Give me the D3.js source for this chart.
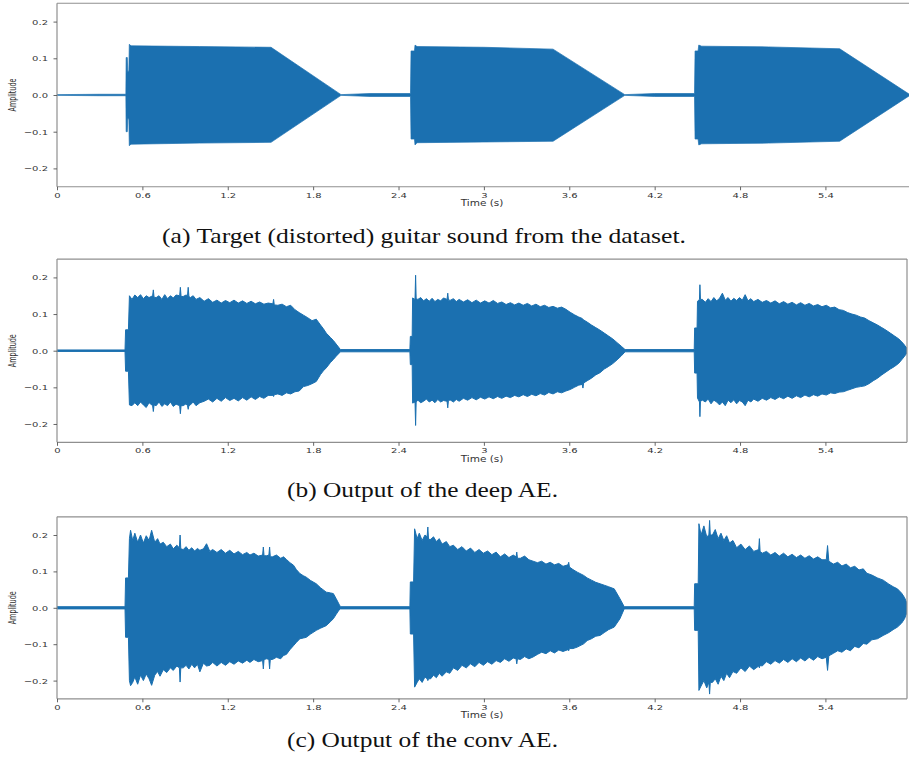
<!DOCTYPE html>
<html><head><meta charset="utf-8">
<script src="https://cdn.jsdelivr.net/npm/d3@7"></script>
<style>body{margin:0;background:#fff}svg{display:block}</style>
</head><body>
<svg id="chart" width="909" height="757"></svg>
<script>
// ---------- data ----------
const xTickValues = [0, 0.6, 1.2, 1.8, 2.4, 3, 3.6, 4.2, 4.8, 5.4];
const xTickLabels = ["0", "0.6", "1.2", "1.8", "2.4", "3", "3.6", "4.2", "4.8", "5.4"];
const yTickValues = [-0.2, -0.1, 0.0, 0.1, 0.2];
const yTickLabels = ["\u22120.2", "\u22120.1", "0.0", "0.1", "0.2"];
const xLabel = "Time (s)";
const yLabel = "Amplitude";
const captions = [
  "(a) Target (distorted) guitar sound from the dataset.",
  "(b) Output of the deep AE.",
  "(c) Output of the conv AE."
];

// envelope rows: [time (s), upper amplitude, lower amplitude]
const targetEnvelope = [
  [0,0.001,-0.001],[0.30,0.002,-0.002],[0.484,0.002,-0.002],[0.486,0.102,-0.100],[0.494,0.102,-0.100],
  [0.497,0.065,-0.065],[0.505,0.065,-0.065],[0.508,0.138,-0.138],[0.52,0.134,-0.134],[1.0,0.132,-0.131],
  [1.504,0.130,-0.129],[1.996,0.001,-0.001],[2.2,0.004,-0.004],[2.484,0.004,-0.004],[2.488,0.120,-0.120],
  [2.512,0.120,-0.120],[2.516,0.136,-0.136],[2.53,0.132,-0.130],[3.0,0.130,-0.128],[3.486,0.125,-0.126],
  [3.99,0.001,-0.001],[4.2,0.004,-0.004],[4.48,0.004,-0.004],[4.484,0.120,-0.120],[4.505,0.120,-0.120],
  [4.51,0.136,-0.136],[4.53,0.133,-0.133],[5.0,0.131,-0.131],[5.50,0.126,-0.126],[5.99,0.002,-0.002],[6.0,0,0]
];

const deepAEEnvelope = [
  [0,0.002,-0.002],[0.478,0.002,-0.002],[0.482,0.057,-0.056],[0.502,0.057,-0.056],[0.509,0.150,-0.148],
  [0.527,0.140,-0.150],[0.547,0.152,-0.142],[0.567,0.145,-0.150],[0.587,0.153,-0.140],[0.607,0.142,-0.148],
  [0.627,0.150,-0.155],[0.647,0.145,-0.142],[0.672,0.150,-0.150],[0.677,0.166,-0.166],[0.682,0.146,-0.148],
  [0.697,0.145,-0.150],[0.717,0.150,-0.140],[0.737,0.140,-0.152],[0.757,0.153,-0.145],[0.777,0.142,-0.150],
  [0.797,0.150,-0.140],[0.817,0.144,-0.152],[0.837,0.152,-0.146],[0.862,0.150,-0.150],[0.867,0.173,-0.172],
  [0.872,0.148,-0.150],[0.887,0.148,-0.150],[0.907,0.152,-0.145],[0.917,0.150,-0.150],[0.922,0.173,-0.160],
  [0.927,0.148,-0.150],[0.937,0.145,-0.148],[0.957,0.150,-0.140],[0.977,0.140,-0.150],[1.004,0.145,-0.142],
  [1.034,0.135,-0.138],[1.064,0.142,-0.132],[1.094,0.132,-0.140],[1.124,0.138,-0.130],[1.154,0.130,-0.138],
  [1.184,0.137,-0.128],[1.214,0.131,-0.136],[1.244,0.138,-0.130],[1.274,0.130,-0.137],[1.304,0.136,-0.128],
  [1.334,0.129,-0.135],[1.364,0.135,-0.126],[1.394,0.128,-0.133],[1.424,0.133,-0.125],[1.454,0.127,-0.130],
  [1.484,0.130,-0.122],[1.517,0.128,-0.122],[1.522,0.140,-0.125],[1.527,0.125,-0.120],[1.552,0.124,-0.118],
  [1.582,0.127,-0.122],[1.612,0.120,-0.115],[1.642,0.124,-0.118],[1.672,0.112,-0.112],[1.702,0.104,-0.110],
  [1.732,0.097,-0.098],[1.762,0.090,-0.095],[1.792,0.082,-0.090],[1.822,0.086,-0.084],[1.852,0.070,-0.065],
  [1.872,0.060,-0.055],[1.892,0.048,-0.047],[1.922,0.036,-0.032],[1.942,0.028,-0.024],[1.962,0.018,-0.015],
  [1.992,0.003,-0.003],[2.480,0.003,-0.003],
  [2.483,0.039,-0.038],[2.496,0.039,-0.038],[2.499,0.144,-0.143],[2.516,0.140,-0.140],[2.520,0.206,-0.204],
  [2.524,0.142,-0.140],[2.536,0.140,-0.135],[2.556,0.145,-0.142],[2.576,0.136,-0.138],[2.596,0.142,-0.132],
  [2.616,0.135,-0.140],[2.636,0.143,-0.135],[2.656,0.134,-0.142],[2.676,0.140,-0.133],[2.696,0.136,-0.140],
  [2.716,0.144,-0.136],[2.741,0.140,-0.138],[2.746,0.157,-0.156],[2.751,0.138,-0.135],[2.766,0.138,-0.135],
  [2.786,0.142,-0.140],[2.806,0.134,-0.133],[2.826,0.140,-0.138],[2.856,0.133,-0.130],[2.886,0.139,-0.135],
  [2.916,0.131,-0.128],[2.946,0.138,-0.134],[2.976,0.130,-0.127],[3.006,0.136,-0.132],[3.036,0.130,-0.126],
  [3.066,0.137,-0.131],[3.096,0.129,-0.125],[3.126,0.133,-0.130],[3.156,0.126,-0.124],[3.186,0.131,-0.128],
  [3.216,0.125,-0.122],[3.246,0.130,-0.126],[3.276,0.124,-0.120],[3.306,0.129,-0.125],[3.336,0.122,-0.119],
  [3.366,0.127,-0.123],[3.396,0.120,-0.117],[3.426,0.124,-0.121],[3.456,0.118,-0.114],[3.486,0.121,-0.118],
  [3.516,0.116,-0.112],[3.546,0.119,-0.115],[3.576,0.113,-0.110],[3.606,0.105,-0.106],[3.636,0.098,-0.100],
  [3.666,0.092,-0.094],[3.691,0.088,-0.092],[3.696,0.086,-0.102],[3.701,0.084,-0.088],[3.726,0.078,-0.082],
  [3.756,0.070,-0.075],[3.786,0.063,-0.066],[3.816,0.056,-0.060],[3.846,0.048,-0.050],[3.876,0.040,-0.043],
  [3.906,0.032,-0.035],[3.936,0.022,-0.025],[3.966,0.012,-0.014],[3.992,0.003,-0.003],[4.478,0.003,-0.003],
  [4.481,0.062,-0.061],[4.498,0.062,-0.061],[4.501,0.135,-0.129],[4.515,0.140,-0.140],[4.518,0.180,-0.180],
  [4.522,0.140,-0.138],[4.536,0.140,-0.135],[4.556,0.132,-0.140],[4.576,0.142,-0.132],[4.596,0.134,-0.145],
  [4.616,0.145,-0.135],[4.636,0.136,-0.140],[4.656,0.143,-0.148],[4.676,0.157,-0.140],[4.696,0.138,-0.150],
  [4.716,0.145,-0.135],[4.736,0.135,-0.142],[4.756,0.143,-0.134],[4.776,0.137,-0.145],[4.796,0.145,-0.136],
  [4.816,0.138,-0.140],[4.836,0.153,-0.150],[4.856,0.136,-0.135],[4.876,0.142,-0.140],[4.896,0.134,-0.132],
  [4.926,0.140,-0.138],[4.956,0.132,-0.130],[4.986,0.137,-0.135],[5.016,0.130,-0.128],[5.046,0.136,-0.133],
  [5.076,0.128,-0.126],[5.106,0.134,-0.131],[5.136,0.127,-0.124],[5.166,0.132,-0.130],[5.196,0.125,-0.123],
  [5.226,0.131,-0.128],[5.256,0.124,-0.121],[5.286,0.129,-0.126],[5.316,0.122,-0.120],[5.346,0.126,-0.124],
  [5.376,0.120,-0.118],[5.406,0.124,-0.121],[5.436,0.117,-0.115],[5.466,0.119,-0.117],[5.496,0.112,-0.113],
  [5.526,0.110,-0.112],[5.556,0.104,-0.108],[5.586,0.100,-0.104],[5.616,0.097,-0.100],[5.646,0.092,-0.098],
  [5.676,0.089,-0.096],[5.706,0.082,-0.090],[5.736,0.076,-0.082],[5.766,0.070,-0.075],[5.796,0.063,-0.066],
  [5.826,0.056,-0.058],[5.856,0.048,-0.050],[5.886,0.040,-0.043],[5.916,0.032,-0.034],[5.946,0.020,-0.020],
  [5.976,0.005,-0.005]
];

const convAEEnvelope = [
  [0,0.003,-0.003],[0.478,0.003,-0.003],[0.482,0.082,-0.081],[0.502,0.082,-0.081],[0.509,0.190,-0.200],
  [0.517,0.213,-0.214],[0.532,0.185,-0.205],[0.547,0.205,-0.190],[0.567,0.180,-0.210],[0.587,0.200,-0.185],
  [0.607,0.178,-0.200],[0.627,0.198,-0.182],[0.647,0.185,-0.195],[0.665,0.213,-0.213],[0.687,0.180,-0.185],
  [0.707,0.190,-0.175],[0.724,0.175,-0.188],[0.747,0.180,-0.170],[0.771,0.168,-0.178],[0.797,0.175,-0.165],
  [0.817,0.162,-0.172],[0.842,0.172,-0.160],[0.860,0.165,-0.165],[0.865,0.200,-0.204],[0.870,0.162,-0.165],
  [0.887,0.160,-0.165],[0.907,0.168,-0.158],[0.927,0.158,-0.168],[0.947,0.165,-0.155],[0.967,0.156,-0.165],
  [0.987,0.163,-0.155],[1.004,0.158,-0.176],[1.029,0.162,-0.152],[1.051,0.176,-0.160],[1.074,0.155,-0.158],
  [1.094,0.160,-0.150],[1.124,0.152,-0.160],[1.154,0.160,-0.150],[1.184,0.150,-0.158],[1.214,0.158,-0.148],
  [1.244,0.148,-0.155],[1.274,0.155,-0.146],[1.304,0.146,-0.152],[1.334,0.152,-0.144],[1.356,0.145,-0.150],
  [1.384,0.150,-0.142],[1.414,0.142,-0.148],[1.445,0.145,-0.145],[1.450,0.167,-0.168],[1.455,0.143,-0.142],
  [1.474,0.143,-0.140],[1.489,0.145,-0.142],[1.494,0.167,-0.168],[1.499,0.140,-0.142],[1.514,0.140,-0.142],
  [1.542,0.145,-0.136],[1.572,0.136,-0.140],[1.592,0.140,-0.131],[1.612,0.133,-0.128],[1.637,0.124,-0.115],
  [1.662,0.117,-0.104],[1.682,0.105,-0.095],[1.707,0.094,-0.085],[1.732,0.088,-0.083],[1.752,0.084,-0.081],
  [1.782,0.075,-0.072],[1.822,0.066,-0.062],[1.852,0.055,-0.056],[1.892,0.043,-0.049],[1.922,0.041,-0.038],
  [1.942,0.039,-0.030],[1.962,0.025,-0.018],[1.982,0.010,-0.006],[1.992,0.003,-0.003],[2.480,0.003,-0.003],
  [2.483,0.071,-0.072],[2.506,0.071,-0.072],[2.513,0.217,-0.218],[2.531,0.190,-0.205],[2.546,0.205,-0.195],
  [2.566,0.185,-0.205],[2.586,0.200,-0.190],[2.601,0.195,-0.195],[2.606,0.222,-0.200],[2.611,0.188,-0.195],
  [2.626,0.188,-0.195],[2.646,0.195,-0.185],[2.666,0.182,-0.192],[2.686,0.190,-0.180],[2.706,0.175,-0.188],
  [2.736,0.182,-0.176],[2.760,0.168,-0.180],[2.786,0.172,-0.165],[2.816,0.160,-0.172],[2.846,0.168,-0.158],
  [2.876,0.156,-0.165],[2.906,0.164,-0.154],[2.936,0.152,-0.162],[2.966,0.160,-0.150],[2.996,0.150,-0.158],
  [3.026,0.156,-0.148],[3.056,0.146,-0.155],[3.086,0.153,-0.145],[3.116,0.140,-0.150],[3.146,0.148,-0.140],
  [3.176,0.138,-0.147],[3.206,0.145,-0.138],[3.226,0.140,-0.140],[3.231,0.153,-0.154],[3.236,0.136,-0.140],
  [3.256,0.136,-0.142],[3.286,0.142,-0.134],[3.316,0.132,-0.140],[3.346,0.128,-0.135],[3.376,0.124,-0.128],
  [3.406,0.128,-0.122],[3.436,0.120,-0.126],[3.466,0.125,-0.118],[3.496,0.118,-0.124],[3.526,0.122,-0.116],
  [3.556,0.114,-0.120],[3.591,0.118,-0.115],[3.596,0.125,-0.118],[3.601,0.112,-0.112],[3.626,0.105,-0.112],
  [3.656,0.098,-0.108],[3.701,0.089,-0.099],[3.726,0.082,-0.090],[3.756,0.076,-0.085],[3.786,0.070,-0.078],
  [3.816,0.066,-0.076],[3.846,0.062,-0.068],[3.876,0.058,-0.060],[3.916,0.052,-0.053],[3.956,0.025,-0.030],
  [3.986,0.003,-0.003],[4.478,0.003,-0.003],
  [4.481,0.066,-0.062],[4.506,0.066,-0.062],[4.511,0.231,-0.227],[4.526,0.200,-0.215],[4.546,0.225,-0.200],
  [4.566,0.195,-0.220],[4.581,0.200,-0.205],[4.586,0.240,-0.237],[4.591,0.200,-0.205],[4.606,0.200,-0.205],
  [4.626,0.215,-0.195],[4.646,0.190,-0.210],[4.666,0.205,-0.188],[4.686,0.185,-0.200],[4.706,0.198,-0.180],
  [4.726,0.178,-0.192],[4.750,0.185,-0.175],[4.776,0.165,-0.180],[4.806,0.175,-0.165],[4.836,0.160,-0.175],
  [4.866,0.170,-0.160],[4.896,0.155,-0.170],[4.931,0.160,-0.160],[4.936,0.190,-0.165],[4.941,0.155,-0.158],
  [4.956,0.150,-0.160],[4.986,0.155,-0.148],[5.016,0.145,-0.155],[5.046,0.152,-0.145],[5.076,0.142,-0.152],
  [5.106,0.150,-0.142],[5.136,0.140,-0.150],[5.166,0.147,-0.140],[5.196,0.138,-0.148],[5.226,0.145,-0.138],
  [5.256,0.136,-0.146],[5.286,0.143,-0.136],[5.316,0.134,-0.144],[5.346,0.140,-0.134],[5.376,0.132,-0.140],
  [5.406,0.132,-0.136],[5.415,0.171,-0.172],[5.424,0.128,-0.132],[5.456,0.120,-0.125],[5.486,0.125,-0.118],
  [5.516,0.115,-0.122],[5.546,0.120,-0.113],[5.576,0.110,-0.118],[5.606,0.114,-0.106],[5.636,0.104,-0.110],
  [5.666,0.107,-0.098],[5.691,0.095,-0.100],[5.726,0.090,-0.088],[5.766,0.082,-0.085],[5.806,0.076,-0.076],
  [5.846,0.065,-0.068],[5.876,0.058,-0.060],[5.906,0.052,-0.053],[5.936,0.040,-0.042],[5.956,0.028,-0.030],
  [5.976,0.010,-0.010]
];

// ---------- layout ----------
const svg = d3.select("#chart");
const waveColor = "#1b70b0";
const spineColor = "#8f8f8f";
const textScaleY = 0.78;

const panels = [
  {data: targetEnvelope, top: 3.25, bottom: 186.75, clipRight: 909, rightSpine: false, caption: captions[0], capLeft: 162, capRight: 686, capBase: 243, stroke: 0.7},
  {data: deepAEEnvelope, top: 259.1, bottom: 442.3, clipRight: 907, rightSpine: true, caption: captions[1], capLeft: 287, capRight: 558, capBase: 497, stroke: 1},
  {data: convAEEnvelope, top: 516.8, bottom: 698.8, clipRight: 907, rightSpine: true, caption: captions[2], capLeft: 287, capRight: 558, capBase: 747, stroke: 1}
];
const left = 57;

panels.forEach((p, i) => {
  const x = d3.scaleLinear().domain([0, 6]).range([left, left + 6 * 142.3]);
  const y = d3.scaleLinear().domain([-0.25, 0.25]).range([p.bottom, p.top]);
  const g = svg.append("g");

  const clipId = "clip" + i;
  svg.append("clipPath").attr("id", clipId).append("rect")
    .attr("x", left).attr("y", p.top).attr("width", p.clipRight - left).attr("height", p.bottom - p.top);

  const area = d3.area().x(d => x(d[0])).y0(d => y(d[2])).y1(d => y(d[1]));
  g.append("path").datum(p.data).attr("clip-path", `url(#${clipId})`)
    .attr("d", area).attr("fill", waveColor)
    .attr("stroke", waveColor).attr("stroke-width", p.stroke).attr("stroke-linejoin", "round");

  // spines
  const sp = g.append("g").attr("stroke", spineColor).attr("stroke-width", 1.2).attr("fill", "none");
  sp.append("line").attr("x1", left).attr("x2", p.clipRight).attr("y1", p.top).attr("y2", p.top);
  sp.append("line").attr("x1", left).attr("x2", p.clipRight).attr("y1", p.bottom).attr("y2", p.bottom);
  sp.append("line").attr("x1", left).attr("x2", left).attr("y1", p.top).attr("y2", p.bottom);
  if (p.rightSpine) sp.append("line").attr("x1", p.clipRight).attr("x2", p.clipRight).attr("y1", p.top).attr("y2", p.bottom);

  // axes
  const xAxis = d3.axisBottom(x).tickValues(xTickValues).tickFormat((d, k) => xTickLabels[k]).tickSize(3.5).tickPadding(3.3);
  const gx = g.append("g").attr("transform", `translate(0,${p.bottom})`).call(xAxis);
  const yAxis = d3.axisLeft(y).tickValues(yTickValues).tickFormat((d, k) => yTickLabels[k]).tickSize(3.5).tickPadding(5.5);
  const gy = g.append("g").attr("transform", `translate(${left},0)`).call(yAxis);
  [gx, gy].forEach(ax => {
    ax.select(".domain").remove();
    ax.selectAll(".tick line").attr("stroke", "#555").attr("stroke-width", 0.9);
    ax.selectAll(".tick text").attr("fill", "#333").attr("font-family", "DejaVu Sans")
      .attr("font-size", 10).attr("transform", `scale(1,${textScaleY})`);
  });

  // axis titles
  g.append("text").attr("transform", `translate(${(left + 907) / 2},${p.bottom + 19.5}) scale(1,${textScaleY})`)
    .attr("text-anchor", "middle").attr("font-family", "DejaVu Sans").attr("font-size", 10.5)
    .attr("fill", "#333").text(xLabel);
  g.append("text").attr("transform", `translate(15.5,${y(0)}) rotate(-90)`)
    .attr("text-anchor", "middle").attr("font-family", "DejaVu Sans").attr("font-size", 10)
    .attr("textLength", 33).attr("lengthAdjust", "spacingAndGlyphs")
    .attr("fill", "#333").text(yLabel);

  // caption
  const cap = svg.append("text").attr("x", p.capLeft).attr("y", p.capBase)
    .attr("font-family", "Liberation Serif").attr("font-size", 21).attr("fill", "#111")
    .text(p.caption);
  cap.attr("textLength", p.capRight - p.capLeft).attr("lengthAdjust", "spacingAndGlyphs");
});
</script>
</body></html>
